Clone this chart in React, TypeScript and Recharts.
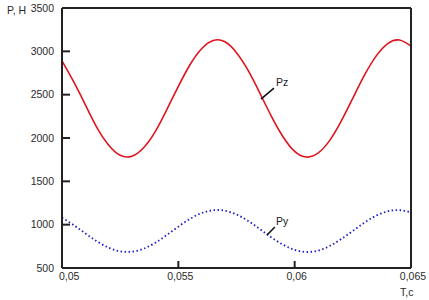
import { LineChart, Line, XAxis, YAxis, ReferenceLine, ReferenceDot } from "recharts";

// time, s
const times = [
  0.05, 0.0505, 0.051, 0.0515, 0.052, 0.0525, 0.053, 0.0535, 0.054, 0.0545,
  0.055, 0.0555, 0.056, 0.0565, 0.057, 0.0575, 0.058, 0.0585, 0.059, 0.0595,
  0.06, 0.0605, 0.061, 0.0615, 0.062, 0.0625, 0.063, 0.0635, 0.064, 0.0645, 0.065,
];

// force Pz, N
const pz = [
  2890, 2650, 2385, 2120, 1920, 1800, 1790, 1885, 2070, 2325,
  2595, 2845, 3030, 3125, 3110, 2985, 2780, 2520, 2250, 2015,
  1845, 1780, 1825, 1970, 2195, 2460, 2725, 2945, 3090, 3130, 3060,
];

// force Py, N
const py = [
  1080, 995, 900, 808, 735, 692, 688, 722, 790, 880,
  977, 1067, 1133, 1167, 1161, 1117, 1043, 950, 853, 769,
  709, 685, 700, 753, 834, 928, 1024, 1103, 1154, 1168, 1143,
];

const xTicks = [0.05, 0.055, 0.06, 0.065];
const yTicks = [500, 1000, 1500, 2000, 2500, 3000, 3500];

const data = times.map((t, i) => ({ t, pz: pz[i], py: py[i] }));

const fmt = (v: number) => String(v).replace(".", ",");

const font = "Arial, 'Liberation Sans', sans-serif";
const fs = 10.5;

function XTick(props: any) {
  const { x, y, payload, index } = props;
  const first = index === 0;
  return (
    <text
      x={first ? x - 3 : x + 2}
      y={y}
      dy={4}
      textAnchor={first ? "start" : "middle"}
      fontSize={fs}
      fontFamily={font}
      fill="#2a2a2a"
    >
      {fmt(payload.value)}
    </text>
  );
}

export default function App() {
  return (
    <div style={{ position: "relative", width: 429, height: 300, background: "#fff" }}>
      <style>{`body{margin:0}`}</style>
      <LineChart
        width={429}
        height={300}
        data={data}
        margin={{ top: 7, right: 17, bottom: 0, left: 0 }}
      >
        <XAxis
          dataKey="t"
          type="number"
          domain={[0.05, 0.065]}
          ticks={xTicks}
          height={32}
          stroke="#222"
          strokeWidth={2}
          tickSize={-7}
          tickMargin={15}
          tick={<XTick />}
        />
        <XAxis
          xAxisId="top"
          orientation="top"
          dataKey="t"
          type="number"
          domain={[0.05, 0.065]}
          ticks={xTicks}
          height={1}
          stroke="#222"
          strokeWidth={2}
          tickSize={-7}
          tick={false}
        />
        <YAxis
          type="number"
          domain={[500, 3500]}
          ticks={yTicks}
          width={62}
          stroke="#222"
          strokeWidth={2}
          tickSize={-8}
          tickMargin={16}
          tick={{ fontSize: fs, fontFamily: font, fill: "#2a2a2a" }}
        />
        <YAxis
          yAxisId="right"
          orientation="right"
          type="number"
          domain={[500, 3500]}
          ticks={yTicks}
          width={1}
          stroke="#222"
          strokeWidth={2}
          tickSize={-8}
          tick={false}
        />
        <Line
          dataKey="pz"
          type="natural"
          stroke="#e0141e"
          strokeWidth={1.6}
          dot={false}
          isAnimationActive={false}
        />
        <Line
          dataKey="py"
          xAxisId="top"
          yAxisId="right"
          type="natural"
          stroke="#1c1cc8"
          strokeWidth={1.8}
          strokeDasharray="1.5 2.5"
          dot={false}
          isAnimationActive={false}
        />
        <ReferenceLine
          segment={[
            { x: 0.05855, y: 2449 },
            { x: 0.05911, y: 2576 },
          ]}
          stroke="#111"
          strokeWidth={1.6}
        />
        <ReferenceLine
          segment={[
            { x: 0.05881, y: 881 },
            { x: 0.05915, y: 973 },
          ]}
          stroke="#111"
          strokeWidth={1.6}
        />
        <ReferenceDot
          x={0.0592}
          y={2645}
          r={0}
          label={{ value: "Pz", position: "right", offset: 0, fontSize: fs, fontFamily: font, fill: "#222" }}
        />
        <ReferenceDot
          x={0.0592}
          y={1042}
          r={0}
          label={{ value: "Py", position: "right", offset: 0, fontSize: fs, fontFamily: font, fill: "#222" }}
        />
      </LineChart>
      <div
        style={{
          position: "absolute",
          left: 7,
          top: 4,
          fontSize: fs,
          fontFamily: font,
          color: "#2a2a2a",
        }}
      >
        P, H
      </div>
      <div
        style={{
          position: "absolute",
          left: 400,
          top: 286,
          fontSize: fs,
          fontFamily: font,
          color: "#2a2a2a",
        }}
      >
        T,c
      </div>
    </div>
  );
}
